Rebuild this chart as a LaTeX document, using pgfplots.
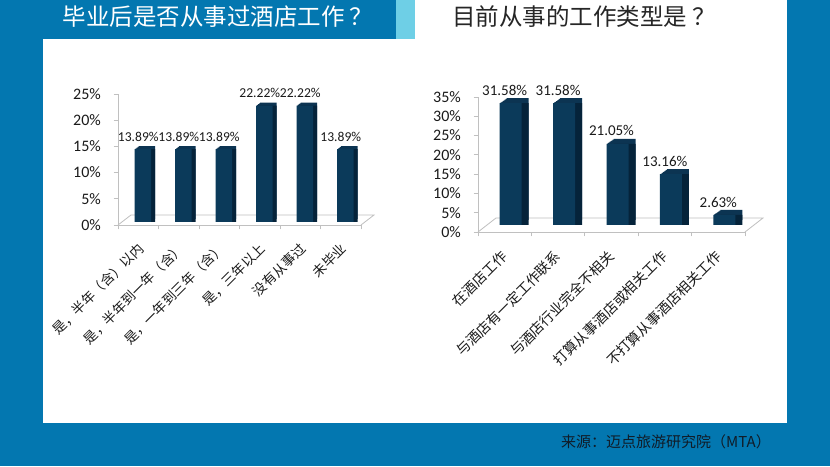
\documentclass[border=0pt]{standalone}
\usepackage{pgfplots}
\pgfplotsset{compat=1.18}
\usepackage{pgfplotstable}
\usepackage{fontspec}
\setmainfont{Carlito}
\newfontfamily\cjk{Noto Sans CJK SC}
\definecolor{frameblue}{RGB}{3,119,176}
\definecolor{lightstrip}{RGB}{110,207,230}
\definecolor{barfront}{RGB}{11,58,90}
\definecolor{bartop}{RGB}{12,52,82}
\definecolor{barside}{RGB}{5,35,58}
\definecolor{axisgray}{RGB}{192,192,192}
\definecolor{txt}{RGB}{26,26,26}

\pgfplotstableread{
x y
0 13.89
1 13.89
2 13.89
3 22.22
4 22.22
5 13.89
}\leftdata
\pgfplotstableread{
x y
0 31.58
1 31.58
2 21.05
3 13.16
4 2.63
}\rightdata

\pgfplotsset{
  /pgf/number format/assume math mode=true,
  chart3d/.style={
    scale only axis, clip=false,
    axis x line*=bottom, axis y line*=left,
    axis line style={draw=axisgray, line width=0.8pt},
    tick align=outside, major tick length=4.5pt,
    tick style={draw=axisgray, line width=0.8pt},
    x tick label as interval,
    ymin=0,
    yticklabel={\pgfmathprintnumber{\tick}\%},
    yticklabel style={inner sep=0pt, xshift=-12.5pt, font=\fontsize{16}{18}\selectfont, text=txt},
  },
}

\begin{document}
\begin{tikzpicture}[x=1pt,y=1pt]
\useasboundingbox (0,0) rectangle (830,466);
\fill[white] (0,0) rectangle (830,466);
\fill[frameblue] (0,0) rectangle (43,427);
\fill[frameblue] (0,0) rectangle (830,43);
\fill[frameblue] (787,0) rectangle (830,466);
\fill[frameblue] (0,427) rectangle (396,466);
\fill[lightstrip] (396,427) rectangle (415,466);
\node[white,font=\cjk\fontsize{23.5}{28}\selectfont] at (218,449) {毕业后是否从事过酒店工作\hspace{5pt}？};
\node[text={rgb,255:red,38;green,38;blue,38},font=\cjk\fontsize{23.5}{28}\selectfont] at (584,449) {目前从事的工作类型是\hspace{5pt}？};
\node[text={rgb,255:red,16;green,28;blue,40},font=\cjk\fontsize{15}{18}\selectfont] at (666,24) {来源：迈点旅游研究院（MTA）};

% ---------- left chart ----------
\begin{axis}[chart3d,
  at={(118pt,241pt)}, anchor=south west,
  width=243pt, height=131pt,
  xmin=-0.5, xmax=5.5, ymax=25,
  ytick={0,5,...,25},
  xtick={-0.5,0.5,...,5.5},
  xticklabels={是，半年（含）以内,是，半年到一年（含）,是，一年到三年（含）,是，三年以上,没有从事过,未毕业},
  xticklabel style={yshift=-16.5pt, xshift=3pt, rotate=45, anchor=east, inner sep=0pt, font=\cjk\fontsize{13.5}{16}\selectfont, text=txt},
]
\draw[axisgray, line width=0.8pt] (axis cs:-0.5,0) -- ([shift={(13pt,10pt)}]axis cs:-0.5,0) -- ([shift={(13pt,10pt)}]axis cs:5.5,0) -- (axis cs:5.5,0);
\addplot[ybar, bar width=16.5pt, fill=bartop, draw=none, bar shift=5.5pt, yshift=3.75pt] table[x=x,y=y] {\leftdata};
\addplot[ybar, bar width=16.5pt, fill=bartop, draw=none, bar shift=6.5pt, yshift=4.5pt] table[x=x,y=y] {\leftdata};
\addplot[ybar, bar width=16.5pt, fill=bartop, draw=none, bar shift=7.5pt, yshift=5.25pt] table[x=x,y=y] {\leftdata};
\addplot[ybar, bar width=16.5pt, fill=bartop, draw=none, bar shift=8.5pt, yshift=6pt] table[x=x,y=y] {\leftdata};
\addplot[ybar, bar width=16.5pt, fill=barside, draw=none, bar shift=8.5pt, yshift=3pt] table[x=x,y=y] {\leftdata};
\addplot[ybar, bar width=16.5pt, fill=barfront, draw=none, bar shift=4.5pt, yshift=3pt,
  nodes near coords={\pgfmathprintnumber[fixed,fixed zerofill,precision=2]{\pgfplotspointmeta}\%},
  every node near coord/.append style={anchor=south, inner sep=0pt, yshift=7.5pt, font=\fontsize{13.6}{15}\selectfont, text=txt}] table[x=x,y=y] {\leftdata};
\end{axis}

% ---------- right chart ----------
\begin{axis}[chart3d,
  at={(478pt,234pt)}, anchor=south west,
  width=267pt, height=135pt,
  xmin=-0.5, xmax=4.5, ymax=35,
  ytick={0,5,...,35},
  xtick={-0.5,0.5,...,4.5},
  xticklabels={在酒店工作,与酒店有一定工作联系,与酒店行业完全不相关,打算从事酒店或相关工作,不打算从事酒店相关工作},
  xticklabel style={yshift=-17.5pt, xshift=0pt, rotate=45, anchor=east, inner sep=0pt, font=\cjk\fontsize{14}{16}\selectfont, text=txt},
]
\draw[axisgray, line width=0.8pt] (axis cs:-0.5,0) -- ([shift={(18pt,14pt)}]axis cs:-0.5,0) -- ([shift={(18pt,14pt)}]axis cs:4.5,0) -- (axis cs:4.5,0);
\addplot[ybar, bar width=22pt, fill=bartop, draw=none, bar shift=7pt, yshift=7.7pt] table[x=x,y=y] {\rightdata};
\addplot[ybar, bar width=22pt, fill=bartop, draw=none, bar shift=8pt, yshift=8.4pt] table[x=x,y=y] {\rightdata};
\addplot[ybar, bar width=22pt, fill=bartop, draw=none, bar shift=9pt, yshift=9.1pt] table[x=x,y=y] {\rightdata};
\addplot[ybar, bar width=22pt, fill=bartop, draw=none, bar shift=10pt, yshift=9.8pt] table[x=x,y=y] {\rightdata};
\addplot[ybar, bar width=22pt, fill=bartop, draw=none, bar shift=11pt, yshift=10.5pt] table[x=x,y=y] {\rightdata};
\addplot[ybar, bar width=22pt, fill=bartop, draw=none, bar shift=12pt, yshift=11.2pt] table[x=x,y=y] {\rightdata};
\addplot[ybar, bar width=22pt, fill=bartop, draw=none, bar shift=13pt, yshift=12pt] table[x=x,y=y] {\rightdata};
\addplot[ybar, bar width=22pt, fill=barside, draw=none, bar shift=13pt, yshift=7pt] table[x=x,y=y] {\rightdata};
\addplot[ybar, bar width=22pt, fill=barfront, draw=none, bar shift=6pt, yshift=7pt,
  nodes near coords={\pgfmathprintnumber[fixed,fixed zerofill,precision=2]{\pgfplotspointmeta}\%},
  every node near coord/.append style={anchor=south, inner sep=0pt, yshift=7.5pt, font=\fontsize{15}{17}\selectfont, text=txt}] table[x=x,y=y] {\rightdata};
\end{axis}
\end{tikzpicture}
\end{document}
